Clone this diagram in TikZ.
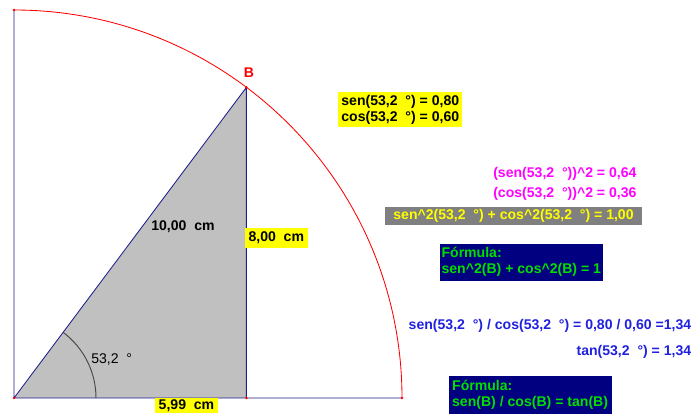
\documentclass[tikz,border=0pt]{standalone}
\usepackage{fontspec}
\setmainfont{Liberation Sans}
\definecolor{Navy}{HTML}{000080}
\definecolor{Edge}{HTML}{1E1E8E}
\definecolor{Shade}{HTML}{C0C0C0}
\definecolor{Lime}{HTML}{00E000}
\definecolor{Pink}{HTML}{FF00FF}
\definecolor{Sky}{HTML}{2020E0}
\definecolor{Lemon}{HTML}{FFFF00}
\definecolor{Slate}{HTML}{808080}
\definecolor{Arc}{HTML}{FF0000}
\begin{document}
\begin{tikzpicture}[x=0.025cm,y=0.025cm,every node/.style={font=\fontsize{10}{11.4}\selectfont\bfseries,inner sep=0.1cm},
  tag/.style={fill=Lemon,text=black},
  formula/.style={fill=Navy,text=Lime,anchor=north west,align=left,minimum width=4.075cm,minimum height=0.9cm,inner xsep=0.05cm}]
\useasboundingbox (0,0) rectangle (694,414);
\def\r{388}\def\a{53.2}
\coordinate (O) at (14,16);
\coordinate (T) at (14,404);
\coordinate (E) at (402,16);
\path (O) ++(\a:\r) coordinate (B);
\coordinate (F) at (B|-O);
\fill[Shade] (O)--(F)--(B)--cycle;
\draw[Edge,line width=0.6pt] (T)--(O)--(E) (O)--(B)--(F);
\draw[Arc,line width=0.6pt] (T) arc[start angle=90,end angle=0,radius=\r];
\draw[black!70,line width=0.7pt] (O) ++(82,0) arc[start angle=0,end angle=\a,radius=82];
\foreach \p in {O,T,E,B,F} \fill[Arc] (\p) circle (1.4);
\node[text=Arc] (lblB) at (249,341) {B};
\node (hyp) at (183,187) {10,00~~cm};
\node[tag] (opp) at (276.3,176.2) {8,00~~cm};
\node[tag,inner ysep=0.04cm] (adj) at (186.5,8.5) {5,99~~cm};
\node[anchor=west,font=\fontsize{10}{11.4}\selectfont] (ang) at (87,55) {53,2~~°};
\node[tag,align=left,inner sep=0.08cm] (sc) at (400.3,304.5) {sen(53,2~~°) = 0,80\\cos(53,2~~°) = 0,60};
\node[text=Pink,anchor=west] (sq1) at (489,239.7) {(sen(53,2~~°))\textasciicircum 2 = 0,64};
\node[text=Pink,anchor=west] (sq2) at (489,219.7) {(cos(53,2~~°))\textasciicircum 2 = 0,36};
\node[fill=Slate,text=Lemon,minimum width=6.425cm,minimum height=0.45cm,inner sep=0pt] (sum) at (513.5,198) {sen\textasciicircum 2(53,2~~°) + cos\textasciicircum 2(53,2~~°) = 1,00};
\node[formula] (f1) at (439.3,170.7) {Fórmula:\\sen\textasciicircum 2(B) + cos\textasciicircum 2(B) = 1};
\node[text=Sky,anchor=east] (quot) at (695.5,88) {sen(53,2~~°) / cos(53,2~~°) = 0,80 / 0,60 =1,34};
\node[text=Sky,anchor=east] (tan) at (695.5,62.3) {tan(53,2~~°) = 1,34};
\node[formula] (f2) at (448.3,38) {Fórmula:\\sen(B) / cos(B) = tan(B)};
\end{tikzpicture}
\end{document}
